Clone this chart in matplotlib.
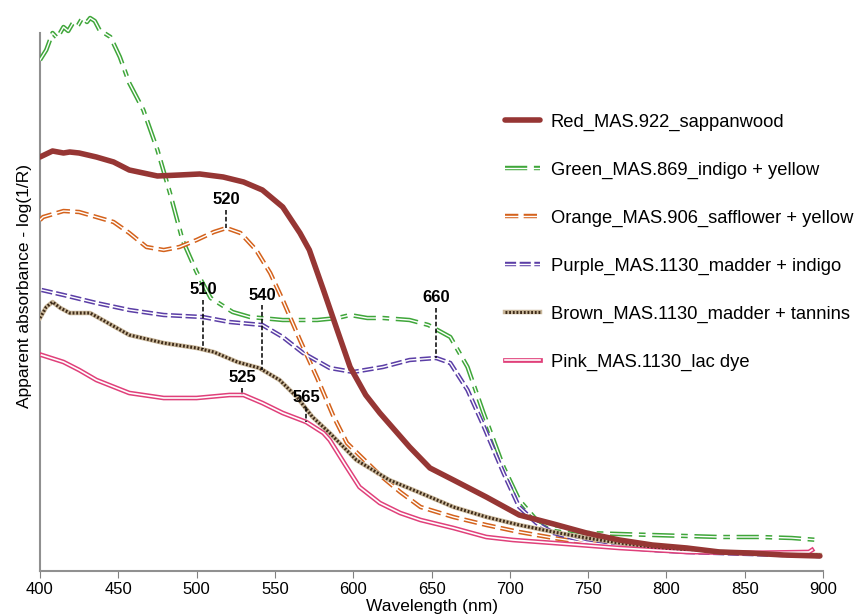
import matplotlib
matplotlib.use("Agg")
import matplotlib.pyplot as plt
import numpy as np
from matplotlib.legend_handler import HandlerTuple

plt.rcParams['font.family'] = ['Liberation Sans', 'DejaVu Sans']

# spectra (arbitrary absorbance units)
red_wl = [400, 408, 415, 419, 425, 436, 447, 457, 475, 489, 502, 517, 530, 542, 555, 566, 572, 581, 590, 598,
          608, 617, 636, 649, 664, 685, 706, 728, 749, 770, 791, 813, 834, 853, 875, 898]
red_y = [4.14, 4.20, 4.18, 4.19, 4.18, 4.14, 4.09, 4.01, 3.95, 3.96, 3.97, 3.94, 3.89, 3.81, 3.64, 3.38, 3.21, 2.81,
         2.40, 2.04, 1.76, 1.58, 1.24, 1.03, 0.91, 0.74, 0.56, 0.47, 0.38, 0.31, 0.26, 0.23, 0.19, 0.18, 0.16, 0.15]

green_wl = [400, 404, 408, 411, 415, 418, 421, 424, 427, 430, 432, 435, 438, 445, 451, 457, 466, 475, 483, 491,
            500, 509, 523, 534, 555, 577, 590, 598, 609, 619, 636, 648, 662, 673, 683, 696, 706, 717, 728, 749,
            770, 791, 813, 834, 860, 880, 897]
green_y = [5.11, 5.21, 5.38, 5.33, 5.44, 5.40, 5.48, 5.45, 5.53, 5.49, 5.53, 5.50, 5.41, 5.34, 5.14, 4.88, 4.61,
           4.21, 3.78, 3.31, 2.99, 2.73, 2.59, 2.54, 2.51, 2.51, 2.53, 2.56, 2.53, 2.53, 2.51, 2.46, 2.34, 2.04,
           1.59, 1.04, 0.71, 0.51, 0.43, 0.38, 0.37, 0.36, 0.35, 0.34, 0.34, 0.33, 0.31]

orange_wl = [400, 402, 415, 425, 436, 447, 457, 468, 479, 489, 500, 511, 519, 528, 538, 547, 555, 566, 577, 587,
             596, 617, 630, 643, 664, 685, 706, 728, 749, 770, 800, 850, 895]
orange_y = [3.51, 3.54, 3.60, 3.59, 3.54, 3.49, 3.38, 3.24, 3.21, 3.24, 3.31, 3.39, 3.43, 3.38, 3.21, 2.98, 2.71,
            2.31, 1.93, 1.56, 1.28, 0.96, 0.79, 0.64, 0.54, 0.46, 0.39, 0.33, 0.28, 0.25, 0.21, 0.18, 0.17]

purple_wl = [401, 415, 436, 457, 479, 504, 521, 542, 555, 568, 585, 600, 619, 636, 653, 662, 673, 683, 696, 706,
             717, 728, 749, 770, 791, 813, 853, 898]
purple_y = [2.81, 2.76, 2.68, 2.61, 2.56, 2.54, 2.49, 2.46, 2.34, 2.18, 2.03, 1.99, 2.04, 2.11, 2.13, 2.08, 1.81,
            1.46, 0.98, 0.64, 0.48, 0.38, 0.29, 0.24, 0.21, 0.19, 0.17, 0.15]

brown_wl = [400, 404, 408, 413, 419, 432, 440, 457, 479, 500, 511, 526, 540, 553, 564, 574, 585, 602, 623, 643,
            664, 685, 706, 728, 749, 770, 791, 813, 850, 898]
brown_y = [2.53, 2.64, 2.69, 2.63, 2.58, 2.58, 2.51, 2.36, 2.28, 2.23, 2.19, 2.09, 2.03, 1.91, 1.74, 1.54, 1.38,
           1.11, 0.91, 0.78, 0.64, 0.54, 0.46, 0.39, 0.33, 0.28, 0.24, 0.21, 0.18, 0.16]

pink_wl = [401, 415, 425, 436, 457, 479, 500, 521, 530, 542, 555, 570, 581, 585, 595, 604, 617, 630, 643, 664,
           685, 702, 728, 770, 813, 850, 891, 893]
pink_y = [2.16, 2.09, 2.01, 1.91, 1.78, 1.73, 1.73, 1.76, 1.76, 1.68, 1.58, 1.49, 1.38, 1.31, 1.06, 0.84, 0.68,
          0.58, 0.51, 0.43, 0.34, 0.31, 0.28, 0.23, 0.19, 0.18, 0.19, 0.21]

labels = ["Red_MAS.922_sappanwood", "Green_MAS.869_indigo + yellow", "Orange_MAS.906_safflower + yellow",
          "Purple_MAS.1130_madder + indigo", "Brown_MAS.1130_madder + tannins", "Pink_MAS.1130_lac dye"]

# peak marks: text, where the dashed line sits, which curve it points at, text height
peak_text = ["520", "510", "540", "525", "565", "660"]
peak_x = [519, 504, 542, 529, 570, 653]
peak_curve = ["orange", "brown", "brown", "pink", "pink", "purple"]
peak_text_y = [3.71, 2.81, 2.76, 1.93, 1.74, 2.73]

fig = plt.figure(figsize=(8.55, 6.15), dpi=100)
ax = fig.add_axes([40 / 855, 44 / 615, 783 / 855, 570 / 615])

# red - plain thick line
h_red, = ax.plot(red_wl, red_y, color="#963634", lw=4, solid_capstyle="round", zorder=6)

# green - double dash-dot
g1, = ax.plot(green_wl, green_y, color="#3fa63a", lw=3.2, dashes=(5, 1.5, 1.5, 1.5), zorder=3)
g2, = ax.plot(green_wl, green_y, color="white", lw=1.0, zorder=3.1)

# orange - double dashed
o1, = ax.plot(orange_wl, orange_y, color="#d4621c", lw=3.2, dashes=(3, 1.2), zorder=4)
o2, = ax.plot(orange_wl, orange_y, color="white", lw=1.0, zorder=4.1)

# purple - double short dashed
p1, = ax.plot(purple_wl, purple_y, color="#5b3ea6", lw=3.2, dashes=(2.5, 0.8), zorder=4)
p2, = ax.plot(purple_wl, purple_y, color="white", lw=1.0, zorder=4.1)

# brown - beige band with dark dots
b1, = ax.plot(brown_wl, brown_y, color="#c9b79a", lw=3.2, zorder=5)
b2, = ax.plot(brown_wl, brown_y, color="#3d2a18", lw=2.2, dashes=(0.6, 0.6), zorder=5.1)

# pink - double solid
k1, = ax.plot(pink_wl, pink_y, color="#e0407a", lw=3.4, zorder=5)
k2, = ax.plot(pink_wl, pink_y, color="white", lw=1.2, zorder=5.1)

curves = {"orange": (orange_wl, orange_y), "brown": (brown_wl, brown_y),
          "pink": (pink_wl, pink_y), "purple": (purple_wl, purple_y)}
for txt, px, cname, ty in zip(peak_text, peak_x, peak_curve, peak_text_y):
    cy = np.interp(px, curves[cname][0], curves[cname][1])
    ax.plot([px, px], [ty - 0.10, cy], color="black", lw=1.1, dashes=(3, 1.5), zorder=7)
    ax.text(px, ty, txt, ha="center", va="center", fontsize=12, fontweight="bold", zorder=8)

ax.set_xlim(400, 900)
ax.set_ylim(0, 5.70)
ax.set_xticks(range(400, 901, 50))
ax.set_yticks([])
for lab in ax.get_xticklabels():
    lab.set_family(['Liberation Sans Narrow', 'Liberation Sans'])
ax.tick_params(axis="x", direction="out", length=5, color="#808080", labelsize=12, pad=3)
ax.spines["top"].set_visible(False)
ax.spines["right"].set_visible(False)
ax.spines["left"].set_color("#909090")
ax.spines["bottom"].set_color("#909090")
ax.spines["left"].set_linewidth(1.5)
ax.spines["bottom"].set_linewidth(1.5)
ax.spines["left"].set_bounds(0, 5.38)

ax.set_xlabel("Wavelength (nm)", fontsize=12.5, labelpad=1,
              family=['Liberation Sans Narrow', 'Liberation Sans'])
ax.set_ylabel("Apparent absorbance - log(1/R)", fontsize=12.5, labelpad=6)

handles = [h_red, (g1, g2), (o1, o2), (p1, p2), (b1, b2), (k1, k2)]
ax.legend(handles, labels, loc="upper left", bbox_to_anchor=(0.594, 0.802), frameon=False,
          fontsize=13.2, handlelength=1.9, handletextpad=0.6, labelspacing=1.68,
          borderaxespad=0, borderpad=0,
          handler_map={tuple: HandlerTuple(ndivide=1, pad=0)})

fig.savefig("out.png", dpi=100)
